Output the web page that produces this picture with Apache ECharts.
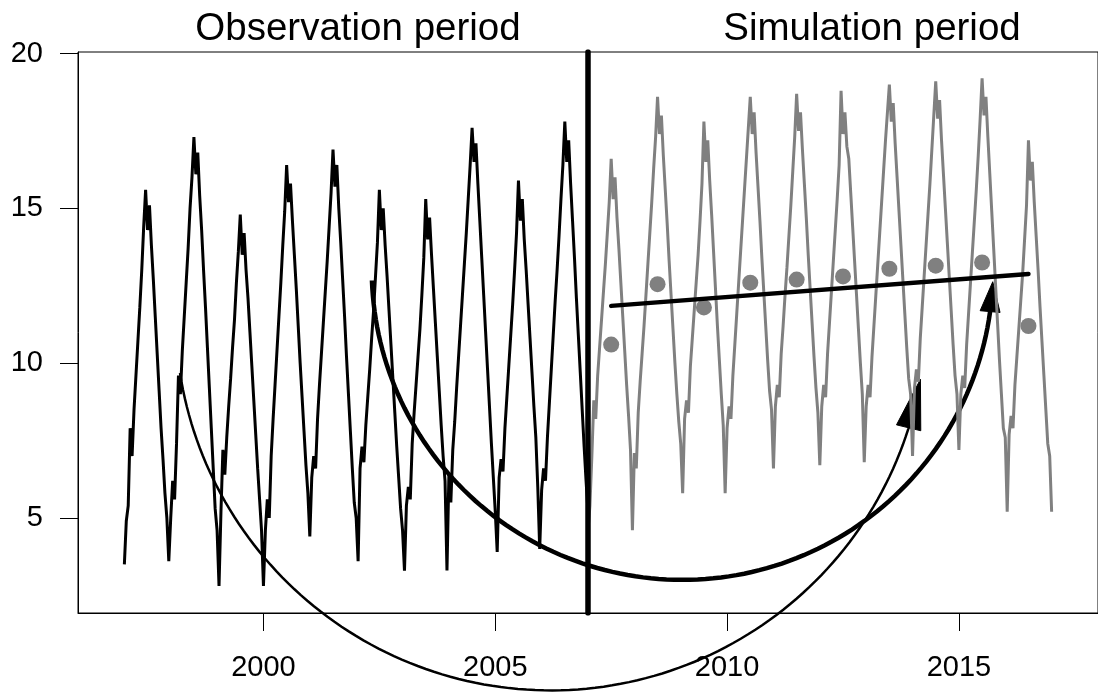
<!DOCTYPE html>
<html>
<head>
<meta charset="utf-8">
<script src="https://cdn.jsdelivr.net/npm/echarts@6/dist/echarts.min.js"></script>
<style>
  html, body { margin: 0; padding: 0; background: #fff; }
  #chart { width: 1098px; height: 693px; }
</style>
</head>
<body>
<div id="chart"></div>
<script>
  // time index: values every half month, starting at 1997.0
  const startYear = 1997
  const stepsPerYear = 24

  // observation period 1997-2006 (+ value at 2007.0)
  const observed = [
    3.5, 4.9, 5.4, 7.9, 7.0, 8.5, 9.6, 10.7, 11.8, 13.0, 14.4, 15.6, 14.3, 15.1, 13.8, 12.7, 11.5, 10.3, 9.1, 7.9, 6.9, 5.8, 5.0, 3.6,
    5.0, 6.2, 5.6, 7.4, 9.6, 9.0, 10.4, 11.5, 12.6, 13.7, 15.0, 16.0, 17.3, 16.1, 16.8, 15.4, 14.3, 13.0, 11.8, 10.5, 9.2, 7.9, 6.6, 5.3,
    4.6, 2.8, 5.2, 7.2, 6.4, 7.6, 8.6, 9.5, 10.5, 11.4, 12.6, 13.6, 14.8, 13.5, 14.2, 13.0, 12.1, 11.0, 9.9, 8.8, 7.7, 6.6, 5.6, 4.6,
    2.8, 4.6, 5.6, 5.0, 7.0, 8.2, 9.3, 10.4, 11.5, 12.6, 13.8, 14.9, 16.4, 15.2, 15.8, 14.6, 13.5, 12.4, 11.2, 10.0, 8.9, 7.8, 6.7, 5.8,
    4.4, 6.3, 7.0, 6.6, 8.2, 9.3, 10.3, 11.3, 12.3, 13.3, 14.4, 15.5, 16.9, 15.7, 16.4, 15.0, 13.9, 12.7, 11.5, 10.2, 9.0, 7.8, 6.6, 5.5,
    5.0, 3.6, 6.6, 7.3, 6.8, 8.0, 8.9, 9.8, 10.8, 11.7, 12.8, 13.9, 15.6, 14.3, 15.0, 13.8, 12.8, 11.7, 10.6, 9.5, 8.4, 7.3, 6.3, 5.3,
    4.6, 3.3, 5.4, 6.0, 5.6, 7.4, 8.4, 9.3, 10.2, 11.1, 12.2, 13.4, 15.3, 14.0, 14.7, 13.5, 12.4, 11.3, 10.2, 9.1, 8.0, 7.0, 6.2, 3.3,
    6.4, 5.5, 7.2, 8.1, 9.2, 10.2, 11.2, 12.2, 13.2, 14.2, 15.3, 16.4, 17.6, 16.5, 17.1, 15.8, 14.6, 13.4, 12.2, 11.0, 9.8, 8.6, 7.4, 6.3,
    5.2, 3.9, 6.3, 6.9, 6.5, 7.9, 8.9, 9.9, 10.9, 11.9, 13.0, 14.2, 15.9, 14.6, 15.3, 14.0, 13.0, 11.9, 10.8, 9.7, 8.6, 7.6, 6.0, 4.0,
    5.9, 6.6, 6.2, 7.6, 8.7, 9.8, 10.9, 12.0, 13.0, 14.1, 15.3, 16.4, 17.8, 16.5, 17.2, 15.8, 14.6, 13.4, 12.1, 10.9, 9.7, 8.5, 7.3, 6.2,
    5.2
  ]

  // simulation period 2007-2016 (+ value at 2017.0)
  const simStartYear = 2007
  const simulated = [
    4.6, 5.4, 7.0, 8.8, 8.2, 9.6, 10.5, 11.4, 12.3, 13.2, 14.2, 15.2, 16.6, 15.3, 16.0, 14.7, 13.7, 12.6, 11.5, 10.4, 9.3, 8.3, 7.2, 4.6,
    7.1, 6.6, 8.4, 9.4, 10.3, 11.2, 12.2, 13.2, 14.2, 15.2, 16.3, 17.3, 18.6, 17.4, 18.0, 16.7, 15.6, 14.5, 13.3, 12.2, 11.1, 10.0, 9.0, 8.1,
    7.4, 5.8, 8.2, 8.8, 8.4, 9.9, 10.8, 11.7, 12.6, 13.5, 14.6, 15.8, 17.8, 16.5, 17.2, 15.9, 14.8, 13.6, 12.4, 11.2, 10.1, 9.0, 8.0, 5.8,
    7.9, 8.6, 8.2, 9.6, 10.6, 11.6, 12.6, 13.6, 14.6, 15.6, 16.6, 17.6, 18.6, 17.4, 18.1, 16.8, 15.7, 14.6, 13.4, 12.3, 11.2, 10.1, 9.1, 8.5,
    6.6, 8.6, 9.3, 8.9, 10.3, 11.2, 12.2, 13.1, 14.1, 15.1, 16.2, 17.3, 18.7, 17.5, 18.1, 16.9, 15.8, 14.7, 13.5, 12.4, 11.3, 10.2, 9.2, 8.4,
    6.7, 8.6, 9.3, 8.9, 10.3, 11.3, 12.3, 13.3, 14.3, 15.3, 16.4, 18.8, 17.4, 18.1, 17.0, 16.6, 15.5, 14.4, 13.3, 12.2, 11.1, 10.0, 9.0, 6.8,
    8.6, 9.3, 8.9, 10.2, 11.2, 12.2, 13.2, 14.2, 15.2, 16.2, 17.2, 18.1, 19.0, 17.8, 18.4, 17.1, 16.0, 14.9, 13.8, 12.7, 11.6, 10.5, 9.5, 9.0,
    7.0, 9.2, 9.8, 9.4, 10.8, 11.8, 12.8, 13.8, 14.8, 15.8, 16.9, 18.0, 19.1, 17.9, 18.5, 17.2, 16.1, 15.0, 13.9, 12.8, 11.7, 10.6, 9.6, 9.0,
    7.2, 9.0, 9.6, 9.2, 10.6, 11.6, 12.6, 13.6, 14.6, 15.6, 16.7, 17.9, 19.2, 18.0, 18.6, 17.3, 16.1, 14.9, 13.7, 12.5, 11.3, 10.1, 9.0, 7.9,
    7.6, 5.2, 7.7, 8.3, 7.9, 9.3, 10.2, 11.1, 12.0, 12.9, 14.0, 15.1, 17.2, 15.9, 16.5, 15.2, 14.1, 13.0, 11.8, 10.7, 9.6, 8.5, 7.4, 7.0,
    5.2
  ]

  // annual means of the simulated years and their trend
  const meanYears = [2007.5, 2008.5, 2009.5, 2010.5, 2011.5, 2012.5, 2013.5, 2014.5, 2015.5, 2016.5]
  const annualMeans = [10.6, 12.55, 11.8, 12.6, 12.7, 12.8, 13.05, 13.15, 13.25, 11.2]
  const trendYears = [2007.5, 2016.5]
  const trendValues = [11.85, 12.88]

  const splitYear = 2007

  // curved arrows: start, lowest point, tip (year, value)
  const thinArrow = [1998.2, 9.68, 2006.19, -0.57, 2014.17, 9.48]
  const thickArrow = [2002.34, 12.67, 2009.03, 3.0, 2015.73, 12.63]

  const xTicks = [2000, 2005, 2010, 2015]
  const yTicks = [5, 10, 15, 20]

  const font = 'Liberation Sans'

  function toPairs (first, values) {
    return values.map((v, i) => [first + i / stepsPerYear, v])
  }

  // circle through three screen points, drawn from a to b, with a triangular head at b
  function arrowRenderer (lineWidth, headLen, headHalf) {
    return function (params, api) {
      const a = api.coord([api.value(0), api.value(1)])
      const m = api.coord([api.value(2), api.value(3)])
      const b = api.coord([api.value(4), api.value(5)])
      const d = 2 * (a[0] * (m[1] - b[1]) + m[0] * (b[1] - a[1]) + b[0] * (a[1] - m[1]))
      const sa = a[0] * a[0] + a[1] * a[1]
      const sm = m[0] * m[0] + m[1] * m[1]
      const sb = b[0] * b[0] + b[1] * b[1]
      const cx = (sa * (m[1] - b[1]) + sm * (b[1] - a[1]) + sb * (a[1] - m[1])) / d
      const cy = (sa * (b[0] - m[0]) + sm * (a[0] - b[0]) + sb * (m[0] - a[0])) / d
      const r = Math.hypot(a[0] - cx, a[1] - cy)
      const norm = t => { while (t < 0) t += 2 * Math.PI; while (t >= 2 * Math.PI) t -= 2 * Math.PI; return t }
      const t0 = Math.atan2(a[1] - cy, a[0] - cx)
      const s1 = norm(Math.atan2(b[1] - cy, b[0] - cx) - t0)
      const s2 = norm(Math.atan2(m[1] - cy, m[0] - cx) - t0)
      const sweep = s2 < s1 ? s1 : s1 - 2 * Math.PI
      const dir = sweep > 0 ? 1 : -1
      const headAngle = headLen / r
      const lineSweep = sweep - dir * headAngle * 0.5
      const pts = []
      const n = 120
      for (let i = 0; i <= n; i++) {
        const t = t0 + lineSweep * i / n
        pts.push([cx + r * Math.cos(t), cy + r * Math.sin(t)])
      }
      const tb = t0 + sweep - dir * headAngle
      const base = [cx + r * Math.cos(tb), cy + r * Math.sin(tb)]
      const ux = (b[0] - base[0]) / headLen
      const uy = (b[1] - base[1]) / headLen
      const c1 = [base[0] - uy * headHalf, base[1] + ux * headHalf]
      const c2 = [base[0] + uy * headHalf, base[1] - ux * headHalf]
      return {
        type: 'group',
        children: [{
          type: 'polyline',
          shape: { points: pts },
          style: { stroke: '#000', lineWidth: lineWidth, fill: null }
        }, {
          type: 'polygon',
          shape: { points: [b, c1, c2] },
          style: { fill: '#000', stroke: '#000', lineWidth: 1 }
        }]
      }
    }
  }

  const chart = echarts.init(document.getElementById('chart'))
  chart.setOption({
    animation: false,
    backgroundColor: '#fff',
    graphic: [{
      type: 'text',
      x: 358,
      y: 29,
      style: { text: 'Observation period', fontSize: 38.5, fontFamily: font, fill: '#000', align: 'center', verticalAlign: 'middle' }
    }, {
      type: 'text',
      x: 872,
      y: 29,
      style: { text: 'Simulation period', fontSize: 38.5, fontFamily: font, fill: '#000', align: 'center', verticalAlign: 'middle' }
    }],
    grid: {
      left: 78,
      top: 52,
      width: 1028,
      height: 561,
      show: true,
      borderColor: '#000',
      borderWidth: 1,
      backgroundColor: 'transparent'
    },
    xAxis: {
      type: 'value',
      min: 1996,
      max: 2018,
      splitLine: { show: false },
      axisLine: { show: true, lineStyle: { color: '#000', width: 1 } },
      axisTick: { show: true, length: 18, customValues: xTicks, lineStyle: { color: '#000' } },
      axisLabel: {
        customValues: xTicks,
        formatter: v => String(v),
        fontSize: 29,
        fontFamily: font,
        color: '#000',
        margin: 40
      }
    },
    yAxis: {
      type: 'value',
      min: 1.93,
      max: 20.05,
      splitLine: { show: false },
      axisLine: { show: true, lineStyle: { color: '#000', width: 1 } },
      axisTick: { show: true, length: 18, customValues: yTicks, lineStyle: { color: '#000' } },
      axisLabel: {
        customValues: yTicks,
        formatter: v => String(v),
        fontSize: 29,
        fontFamily: font,
        color: '#000',
        margin: 35
      }
    },
    series: [{
      type: 'line',
      data: toPairs(startYear, observed),
      showSymbol: false,
      lineStyle: { color: '#000', width: 3 }
    }, {
      type: 'line',
      data: toPairs(simStartYear, simulated),
      showSymbol: false,
      lineStyle: { color: '#808080', width: 3 }
    }, {
      type: 'line',
      data: [[splitYear, 1.93], [splitYear, 20.05]],
      showSymbol: false,
      lineStyle: { color: '#000', width: 5.5, cap: 'round' }
    }, {
      type: 'scatter',
      data: meanYears.map((y, i) => [y, annualMeans[i]]),
      symbolSize: 16,
      itemStyle: { color: '#808080', opacity: 1 }
    }, {
      type: 'line',
      data: trendYears.map((y, i) => [y, trendValues[i]]),
      showSymbol: false,
      lineStyle: { color: '#000', width: 4.5, cap: 'round' }
    }, {
      type: 'custom',
      data: [thickArrow],
      encode: { x: [0, 2, 4], y: [1, 3, 5] },
      clip: false,
      renderItem: arrowRenderer(4.5, 30, 10)
    }, {
      type: 'custom',
      data: [thinArrow],
      encode: { x: [0, 2, 4], y: [1, 3, 5] },
      clip: false,
      renderItem: arrowRenderer(2.5, 50, 12.5)
    }]
  })
</script>
</body>
</html>
